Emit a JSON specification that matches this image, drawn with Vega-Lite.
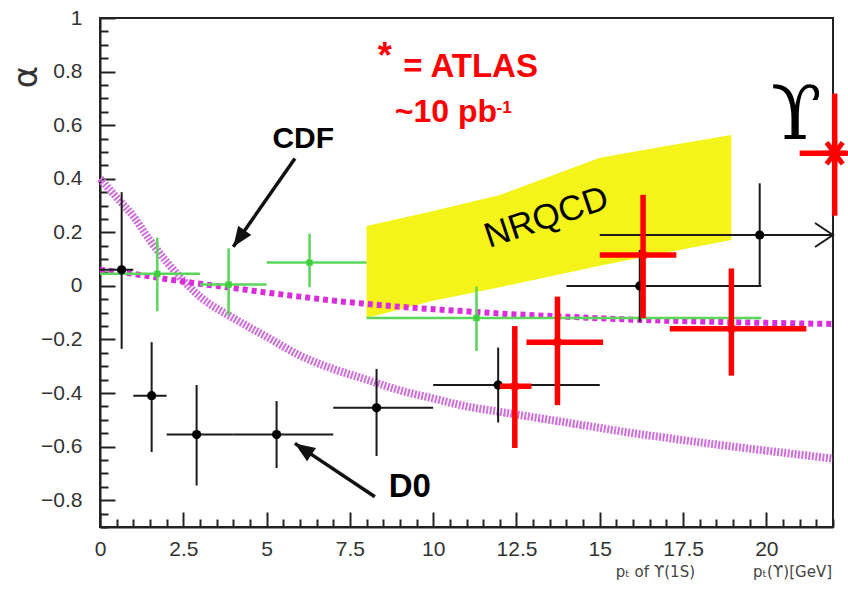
{
  "$schema": "https://vega.github.io/schema/vega-lite/v6.json",
  "width": 733,
  "height": 509,
  "autosize": {"type": "none"},
  "padding": {"left": 100, "top": 18, "right": 15, "bottom": 63},
  "background": "white",
  "config": {"view": {"stroke": "#222", "strokeWidth": 2}, "font": "Liberation Sans"},
  "datasets": {
    "band": [
      {"x": 8, "lo": -0.12, "hi": 0.224},
      {"x": 10, "lo": -0.055, "hi": 0.28},
      {"x": 12, "lo": -0.005, "hi": 0.339},
      {"x": 15, "lo": 0.075, "hi": 0.478},
      {"x": 17, "lo": 0.125, "hi": 0.522},
      {"x": 18.95, "lo": 0.171, "hi": 0.563}
    ],
    "curves": [
      {"curve": "flat", "x": 0, "y": 0.06},
      {"curve": "flat", "x": 1, "y": 0.045},
      {"curve": "flat", "x": 2, "y": 0.025},
      {"curve": "flat", "x": 3, "y": 0.008},
      {"curve": "flat", "x": 4, "y": -0.008},
      {"curve": "flat", "x": 5, "y": -0.025},
      {"curve": "flat", "x": 6, "y": -0.04},
      {"curve": "flat", "x": 7, "y": -0.055},
      {"curve": "flat", "x": 8, "y": -0.067},
      {"curve": "flat", "x": 9, "y": -0.078},
      {"curve": "flat", "x": 10, "y": -0.087},
      {"curve": "flat", "x": 11, "y": -0.095},
      {"curve": "flat", "x": 12, "y": -0.103},
      {"curve": "flat", "x": 14, "y": -0.115},
      {"curve": "flat", "x": 16, "y": -0.126},
      {"curve": "flat", "x": 18, "y": -0.133},
      {"curve": "flat", "x": 20, "y": -0.138},
      {"curve": "flat", "x": 22, "y": -0.142},
      {"curve": "fall", "x": 0, "y": 0.4},
      {"curve": "fall", "x": 0.5, "y": 0.33},
      {"curve": "fall", "x": 1, "y": 0.26},
      {"curve": "fall", "x": 1.5, "y": 0.17},
      {"curve": "fall", "x": 2, "y": 0.09},
      {"curve": "fall", "x": 2.5, "y": 0.02},
      {"curve": "fall", "x": 3, "y": -0.04},
      {"curve": "fall", "x": 4, "y": -0.12},
      {"curve": "fall", "x": 5, "y": -0.19},
      {"curve": "fall", "x": 6, "y": -0.26},
      {"curve": "fall", "x": 7, "y": -0.31},
      {"curve": "fall", "x": 8, "y": -0.35},
      {"curve": "fall", "x": 9, "y": -0.39},
      {"curve": "fall", "x": 10, "y": -0.42},
      {"curve": "fall", "x": 11, "y": -0.45},
      {"curve": "fall", "x": 12, "y": -0.47},
      {"curve": "fall", "x": 13, "y": -0.49},
      {"curve": "fall", "x": 14, "y": -0.51},
      {"curve": "fall", "x": 15, "y": -0.53},
      {"curve": "fall", "x": 16, "y": -0.55},
      {"curve": "fall", "x": 17, "y": -0.567},
      {"curve": "fall", "x": 18, "y": -0.584},
      {"curve": "fall", "x": 19, "y": -0.6},
      {"curve": "fall", "x": 20, "y": -0.615},
      {"curve": "fall", "x": 21, "y": -0.63},
      {"curve": "fall", "x": 22, "y": -0.645}
    ],
    "pts": [
      {"exp": "D0", "x": 0.65, "y": 0.06, "xlo": 0, "xhi": 1, "ylo": -0.235, "yhi": 0.35},
      {"exp": "D0", "x": 1.55, "y": -0.41, "xlo": 1, "xhi": 2, "ylo": -0.62, "yhi": -0.21},
      {"exp": "D0", "x": 2.9, "y": -0.555, "xlo": 2, "xhi": 4, "ylo": -0.745, "yhi": -0.37},
      {"exp": "D0", "x": 5.3, "y": -0.555, "xlo": 4, "xhi": 7, "ylo": -0.68, "yhi": -0.43},
      {"exp": "D0", "x": 8.3, "y": -0.455, "xlo": 7, "xhi": 10, "ylo": -0.635, "yhi": -0.31},
      {"exp": "D0", "x": 11.95, "y": -0.37, "xlo": 10, "xhi": 15, "ylo": -0.51, "yhi": -0.23},
      {"exp": "D0", "x": 16.2, "y": 0.0, "xlo": 14, "xhi": 19.85, "ylo": -0.134, "yhi": 0.134},
      {"exp": "D0", "x": 19.8, "y": 0.19, "xlo": 15, "xhi": 22, "ylo": 0.0, "yhi": 0.383},
      {"exp": "CDF", "x": 1.72, "y": 0.045, "xlo": 0, "xhi": 3, "ylo": -0.095, "yhi": 0.18},
      {"exp": "CDF", "x": 3.86, "y": 0.005, "xlo": 3, "xhi": 5, "ylo": -0.11, "yhi": 0.14},
      {"exp": "CDF", "x": 6.29, "y": 0.087, "xlo": 5, "xhi": 8, "ylo": -0.005, "yhi": 0.195},
      {"exp": "CDF", "x": 11.3, "y": -0.12, "xlo": 8, "xhi": 19.85, "ylo": -0.243, "yhi": -0.003},
      {"exp": "ATLAS", "x": 12.45, "y": -0.375, "xlo": 12.0, "xhi": 12.95, "ylo": -0.605, "yhi": -0.15},
      {"exp": "ATLAS", "x": 13.73, "y": -0.21, "xlo": 12.8, "xhi": 15.1, "ylo": -0.445, "yhi": -0.04},
      {"exp": "ATLAS", "x": 16.3, "y": 0.115, "xlo": 15.0, "xhi": 17.3, "ylo": -0.12, "yhi": 0.34},
      {"exp": "ATLAS", "x": 18.95, "y": -0.16, "xlo": 17.1, "xhi": 21.2, "ylo": -0.335, "yhi": 0.065},
      {"exp": "ATLAS", "x": 22.05, "y": 0.495, "xlo": 21.0, "xhi": 22.4, "ylo": 0.262, "yhi": 0.718}
    ],
    "arrows": [
      {"name": "CDF", "x1": 5.85, "y1": 0.476, "x2": 4.0, "y2": 0.146},
      {"name": "D0", "x1": 8.25, "y1": -0.787, "x2": 5.85, "y2": -0.588}
    ]
  },
  "layer": [
    {
      "data": {"name": "band"},
      "mark": {"type": "area", "color": "#f4f41a", "opacity": 1},
      "encoding": {
        "x": {
          "field": "x", "type": "quantitative", "title": null,
          "scale": {"domain": [0, 22], "nice": false, "zero": false},
          "axis": {
            "title": null, "grid": false, "tickCount": 500,
            "values": [0,0.5,1,1.5,2,2.5,3,3.5,4,4.5,5,5.5,6,6.5,7,7.5,8,8.5,9,9.5,10,10.5,11,11.5,12,12.5,13,13.5,14,14.5,15,15.5,16,16.5,17,17.5,18,18.5,19,19.5,20,20.5,21,21.5,22],
            "format": ".1~f",
            "domainColor": "#222", "domainWidth": 2,
            "tickColor": "#222", "tickWidth": 2,
            "tickSize": {"condition": {"test": "abs(datum.value/2.5 - round(datum.value/2.5)) < 0.001", "value": -15}, "value": -8},
            "labelExpr": "abs(datum.value/2.5 - round(datum.value/2.5)) < 0.001 ? datum.label : ''",
            "labelFontSize": 21, "labelColor": "#333", "labelPadding": 26,
            "labelFlush": false, "labelOverlap": false
          }
        },
        "y": {
          "field": "lo", "type": "quantitative", "title": null,
          "scale": {"domain": [-0.9, 1], "nice": false, "zero": false},
          "axis": {
            "title": null, "grid": false, "tickCount": 500,
            "values": [-0.9,-0.85,-0.8,-0.75,-0.7,-0.65,-0.6,-0.55,-0.5,-0.45,-0.4,-0.35,-0.3,-0.25,-0.2,-0.15,-0.1,-0.05,0,0.05,0.1,0.15,0.2,0.25,0.3,0.35,0.4,0.45,0.5,0.55,0.6,0.65,0.7,0.75,0.8,0.85,0.9,0.95,1],
            "format": ".1~f",
            "domainColor": "#222", "domainWidth": 2,
            "tickColor": "#222", "tickWidth": 2,
            "tickSize": {"condition": {"test": "abs(datum.value/0.2 - round(datum.value/0.2)) < 0.001", "value": -15}, "value": -8},
            "labelExpr": "abs(datum.value/0.2 - round(datum.value/0.2)) < 0.001 ? datum.label : ''",
            "labelFontSize": 21, "labelColor": "#333", "labelPadding": 33,
            "labelFlush": false, "labelOverlap": false
          }
        },
        "y2": {"field": "hi"}
      }
    },
    {
      "data": {"name": "curves"},
      "transform": [{"filter": "datum.curve === 'fall'"}],
      "mark": {"type": "line", "color": "#cf6fdc", "strokeWidth": 8, "strokeDash": [2, 1.5], "interpolate": "monotone"},
      "encoding": {
        "x": {"field": "x", "type": "quantitative", "title": null},
        "y": {"field": "y", "type": "quantitative", "title": null}
      }
    },
    {
      "data": {"name": "curves"},
      "transform": [{"filter": "datum.curve === 'flat'"}],
      "mark": {"type": "line", "color": "#dc2ddc", "strokeWidth": 6, "strokeDash": [5, 4], "interpolate": "monotone"},
      "encoding": {
        "x": {"field": "x", "type": "quantitative", "title": null},
        "y": {"field": "y", "type": "quantitative", "title": null}
      }
    },
    {
      "data": {"name": "pts"},
      "transform": [{"filter": "datum.exp === 'CDF'"}],
      "mark": {"type": "rule", "color": "#5ad65a", "strokeWidth": 2.5},
      "encoding": {
        "x": {"field": "xlo", "type": "quantitative", "title": null},
        "x2": {"field": "xhi"},
        "y": {"field": "y", "type": "quantitative", "title": null}
      }
    },
    {
      "data": {"name": "pts"},
      "transform": [{"filter": "datum.exp === 'CDF'"}],
      "mark": {"type": "rule", "color": "#5ad65a", "strokeWidth": 2.5},
      "encoding": {
        "x": {"field": "x", "type": "quantitative", "title": null},
        "y": {"field": "ylo", "type": "quantitative", "title": null},
        "y2": {"field": "yhi"}
      }
    },
    {
      "data": {"name": "pts"},
      "transform": [{"filter": "datum.exp === 'CDF'"}],
      "mark": {"type": "point", "shape": "square", "filled": true, "color": "#3fcf3f", "size": 40, "opacity": 1},
      "encoding": {
        "x": {"field": "x", "type": "quantitative", "title": null},
        "y": {"field": "y", "type": "quantitative", "title": null}
      }
    },
    {
      "data": {"name": "pts"},
      "transform": [{"filter": "datum.exp === 'D0'"}],
      "mark": {"type": "rule", "color": "#1a1a1a", "strokeWidth": 2},
      "encoding": {
        "x": {"field": "xlo", "type": "quantitative", "title": null},
        "x2": {"field": "xhi"},
        "y": {"field": "y", "type": "quantitative", "title": null}
      }
    },
    {
      "data": {"name": "pts"},
      "transform": [{"filter": "datum.exp === 'D0'"}],
      "mark": {"type": "rule", "color": "#1a1a1a", "strokeWidth": 2},
      "encoding": {
        "x": {"field": "x", "type": "quantitative", "title": null},
        "y": {"field": "ylo", "type": "quantitative", "title": null},
        "y2": {"field": "yhi"}
      }
    },
    {
      "data": {"name": "pts"},
      "transform": [{"filter": "datum.exp === 'D0'"}],
      "mark": {"type": "point", "shape": "circle", "filled": true, "color": "#000", "size": 85, "opacity": 1},
      "encoding": {
        "x": {"field": "x", "type": "quantitative", "title": null},
        "y": {"field": "y", "type": "quantitative", "title": null}
      }
    },
    {
      "data": {"name": "pts"},
      "transform": [{"filter": "datum.exp === 'D0' && datum.xhi >= 22"}],
      "mark": {"type": "point", "shape": "M-1.5,-1L0,0L-1.5,1", "filled": false, "stroke": "#1a1a1a", "strokeWidth": 2, "size": 576, "opacity": 1},
      "encoding": {
        "x": {"field": "xhi", "type": "quantitative", "title": null},
        "y": {"field": "y", "type": "quantitative", "title": null}
      }
    },
    {
      "data": {"name": "pts"},
      "transform": [{"filter": "datum.exp === 'ATLAS'"}],
      "mark": {"type": "rule", "color": "#ff0000", "strokeWidth": 5.5},
      "encoding": {
        "x": {"field": "xlo", "type": "quantitative", "title": null},
        "x2": {"field": "xhi"},
        "y": {"field": "y", "type": "quantitative", "title": null}
      }
    },
    {
      "data": {"name": "pts"},
      "transform": [{"filter": "datum.exp === 'ATLAS'"}],
      "mark": {"type": "rule", "color": "#ff0000", "strokeWidth": 5.5},
      "encoding": {
        "x": {"field": "x", "type": "quantitative", "title": null},
        "y": {"field": "ylo", "type": "quantitative", "title": null},
        "y2": {"field": "yhi"}
      }
    },
    {
      "data": {"name": "pts"},
      "transform": [{"filter": "datum.exp === 'ATLAS' && datum.x < 21.5"}],
      "mark": {"type": "point", "shape": "M-1,0L1,0M0,-1L0,1M-0.7,-0.7L0.7,0.7M-0.7,0.7L0.7,-0.7", "filled": false, "stroke": "#ff0000", "strokeWidth": 1.5, "size": 90, "opacity": 1},
      "encoding": {
        "x": {"field": "x", "type": "quantitative", "title": null},
        "y": {"field": "y", "type": "quantitative", "title": null}
      }
    },
    {
      "data": {"name": "pts"},
      "transform": [{"filter": "datum.exp === 'ATLAS' && datum.x > 21.5"}],
      "mark": {"type": "point", "shape": "M-1,0L1,0M0,-1L0,1M-0.6,-0.8L0.6,0.8M-0.6,0.8L0.6,-0.8", "filled": false, "stroke": "#ff0000", "strokeWidth": 5, "size": 729, "opacity": 1},
      "encoding": {
        "x": {"field": "x", "type": "quantitative", "title": null},
        "y": {"field": "y", "type": "quantitative", "title": null}
      }
    },
    {
      "data": {"name": "arrows"},
      "mark": {"type": "rule", "color": "#111", "strokeWidth": 3.5},
      "encoding": {
        "x": {"field": "x1", "type": "quantitative", "title": null},
        "y": {"field": "y1", "type": "quantitative", "title": null},
        "x2": {"field": "x2"},
        "y2": {"field": "y2"}
      }
    },
    {
      "data": {"name": "arrows"},
      "transform": [{"filter": "datum.name === 'CDF'"}],
      "mark": {"type": "point", "shape": "M0,0L-2,-0.8L-2,0.8Z", "filled": true, "color": "#111", "size": 400, "angle": 125, "opacity": 1},
      "encoding": {
        "x": {"field": "x2", "type": "quantitative", "title": null},
        "y": {"field": "y2", "type": "quantitative", "title": null}
      }
    },
    {
      "data": {"name": "arrows"},
      "transform": [{"filter": "datum.name === 'D0'"}],
      "mark": {"type": "point", "shape": "M0,0L-2,-0.8L-2,0.8Z", "filled": true, "color": "#111", "size": 400, "angle": 214, "opacity": 1},
      "encoding": {
        "x": {"field": "x2", "type": "quantitative", "title": null},
        "y": {"field": "y2", "type": "quantitative", "title": null}
      }
    },
    {
      "data": {"values": [{"label": "CDF"}]},
      "mark": {"type": "text", "font": "Liberation Sans", "fontWeight": "bold", "fontSize": 30, "color": "#000", "align": "center", "baseline": "middle"},
      "encoding": {
        "x": {"datum": 6.1, "type": "quantitative", "title": null},
        "y": {"datum": 0.547, "type": "quantitative", "title": null},
        "text": {"field": "label"}
      }
    },
    {
      "data": {"values": [{"label": "D0"}]},
      "mark": {"type": "text", "font": "Liberation Sans", "fontWeight": "bold", "fontSize": 33, "color": "#000", "align": "center", "baseline": "middle"},
      "encoding": {
        "x": {"datum": 9.3, "type": "quantitative", "title": null},
        "y": {"datum": -0.75, "type": "quantitative", "title": null},
        "text": {"field": "label"}
      }
    },
    {
      "data": {"values": [{"label": "*"}]},
      "mark": {"type": "text", "font": "Liberation Sans", "fontWeight": "bold", "fontSize": 36, "color": "#ff0000", "align": "center", "baseline": "middle"},
      "encoding": {
        "x": {"datum": 8.55, "type": "quantitative", "title": null},
        "y": {"datum": 0.855, "type": "quantitative", "title": null},
        "text": {"field": "label"}
      }
    },
    {
      "data": {"values": [{"label": "= ATLAS"}]},
      "mark": {"type": "text", "font": "Liberation Sans", "fontWeight": "bold", "fontSize": 33, "color": "#ff0000", "align": "left", "baseline": "alphabetic"},
      "encoding": {
        "x": {"datum": 9.1, "type": "quantitative", "title": null},
        "y": {"datum": 0.781, "type": "quantitative", "title": null},
        "text": {"field": "label"}
      }
    },
    {
      "data": {"values": [{"label": "~10 pb"}]},
      "mark": {"type": "text", "font": "Liberation Sans", "fontWeight": "bold", "fontSize": 32, "color": "#ff0000", "align": "left", "baseline": "alphabetic"},
      "encoding": {
        "x": {"datum": 8.85, "type": "quantitative", "title": null},
        "y": {"datum": 0.613, "type": "quantitative", "title": null},
        "text": {"field": "label"}
      }
    },
    {
      "data": {"values": [{"label": "-1"}]},
      "mark": {"type": "text", "font": "Liberation Sans", "fontWeight": "bold", "fontSize": 17, "color": "#ff0000", "align": "left", "baseline": "alphabetic"},
      "encoding": {
        "x": {"datum": 11.9, "type": "quantitative", "title": null},
        "y": {"datum": 0.645, "type": "quantitative", "title": null},
        "text": {"field": "label"}
      }
    },
    {
      "data": {"values": [{"label": "NRQCD"}]},
      "mark": {"type": "text", "font": "Liberation Sans", "fontSize": 35, "color": "#000", "align": "center", "baseline": "middle", "angle": -18.5},
      "encoding": {
        "x": {"datum": 13.4, "type": "quantitative", "title": null},
        "y": {"datum": 0.256, "type": "quantitative", "title": null},
        "text": {"field": "label"}
      }
    },
    {
      "data": {"values": [{"label": "ϒ"}]},
      "mark": {"type": "text", "font": "DejaVu Serif", "fontSize": 74, "color": "#000", "align": "center", "baseline": "middle"},
      "encoding": {
        "x": {"datum": 20.9, "type": "quantitative", "title": null},
        "y": {"datum": 0.63, "type": "quantitative", "title": null},
        "text": {"field": "label"}
      }
    },
    {
      "data": {"values": [{"label": "α"}]},
      "mark": {"type": "text", "font": "DejaVu Sans", "fontSize": 34, "color": "#333", "align": "center", "baseline": "middle", "angle": 270},
      "encoding": {
        "x": {"datum": -2.2, "type": "quantitative", "title": null},
        "y": {"datum": 0.78, "type": "quantitative", "title": null},
        "text": {"field": "label"}
      }
    },
    {
      "data": {"values": [{"label": "pₜ of ϒ(1S)"}]},
      "mark": {"type": "text", "font": "DejaVu Sans", "fontSize": 15, "color": "#444", "align": "center", "baseline": "middle"},
      "encoding": {
        "x": {"datum": 16.67, "type": "quantitative", "title": null},
        "y": {"datum": -1.068, "type": "quantitative", "title": null},
        "text": {"field": "label"}
      }
    },
    {
      "data": {"values": [{"label": "pₜ(ϒ)[GeV]"}]},
      "mark": {"type": "text", "font": "DejaVu Sans", "fontSize": 15, "color": "#444", "align": "right", "baseline": "middle"},
      "encoding": {
        "x": {"datum": 21.97, "type": "quantitative", "title": null},
        "y": {"datum": -1.068, "type": "quantitative", "title": null},
        "text": {"field": "label"}
      }
    }
  ]
}
